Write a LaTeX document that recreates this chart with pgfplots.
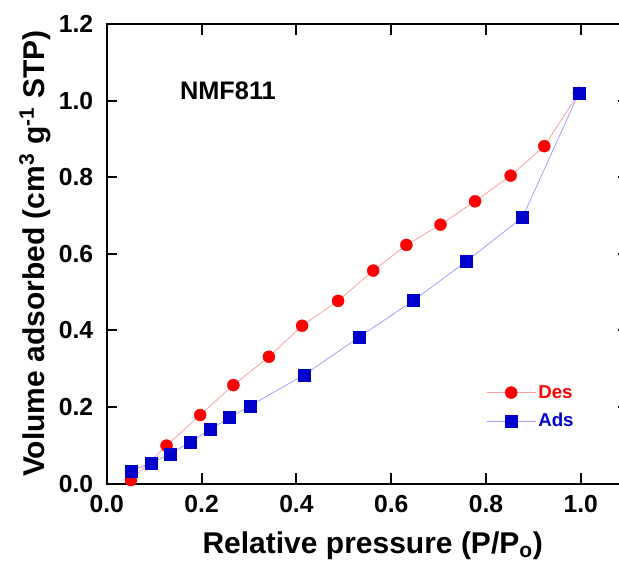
\documentclass[border=0pt]{standalone}
\usepackage{pgfplots}
\pgfplotsset{compat=1.18}
\usepackage{fontspec}
\setmainfont{Liberation Sans}
\definecolor{desred}{RGB}{255,0,0}
\definecolor{desline}{RGB}{255,160,160}
\definecolor{adsblue}{RGB}{0,0,204}
\definecolor{adsline}{RGB}{160,160,255}
\begin{document}
\begin{tikzpicture}
\begin{axis}[name=ax, scale only axis, width=391pt, height=344.6pt,
  xmin=0, xmax=1.1, ymin=0, ymax=1.2,
  xtick={0,0.2,0.4,0.6,0.8,1.0}, ytick={0,0.2,0.4,0.6,0.8,1.0,1.2},
  tick align=inside, major tick length=8pt,
  axis line style={line width=1.5pt},
  every tick/.style={line width=1.5pt, black},
  clip=false,
  tick label style={font=\fontsize{18.5}{18.5}\selectfont\bfseries},
  /pgf/number format/.cd, fixed, fixed zerofill, precision=1, assume math mode=true,
  /pgfplots/.cd,
  xticklabel style={anchor=north, inner sep=0pt, yshift=-8.6pt},
  yticklabel style={anchor=east, inner sep=0pt, xshift=-10pt},
  xlabel={Relative pressure (P/P\textsubscript{o})},
  ylabel={Volume adsorbed (cm\textsuperscript{3} g\textsuperscript{-1} STP)},
  label style={font=\fontsize{22.5}{22.5}\selectfont\bfseries},
  xlabel style={at={(axis description cs:0.51,-0.1513)}, anchor=base},
  ylabel style={at={(axis description cs:-0.1204,0.5)}, anchor=base},
  legend style={at={(axis description cs:0.727,0.219)}, anchor=north west, draw=none, fill=none, inner sep=0pt,
    font=\fontsize{14}{14}\selectfont\bfseries, row sep=7pt, nodes={inner sep=1.5pt}},
  legend cell align=left,
  legend image code/.code={\draw[mark repeat=2,mark phase=2,#1] plot coordinates {(0pt,0pt) (18.5pt,0pt) (37pt,0pt)};},
]
\addplot[color=desline, line width=0.6pt, mark=*, mark size=4.5pt, mark options={fill=desred, draw=desred, line width=0.3pt}]
coordinates {(0.051,0.009) (0.126,0.099) (0.197,0.179) (0.267,0.257) (0.342,0.331) (0.412,0.412) (0.488,0.477) (0.562,0.556) (0.632,0.623) (0.704,0.676) (0.777,0.737) (0.852,0.804) (0.923,0.881) (0.996,1.020)};
\addlegendentry{\textcolor{desred}{Des}}
\addplot[color=adsline, line width=0.6pt, mark=square*, mark size=4.5pt, mark options={fill=adsblue, draw=adsblue, line width=0.3pt}]
coordinates {(0.051,0.033) (0.093,0.054) (0.133,0.077) (0.176,0.108) (0.218,0.141) (0.259,0.172) (0.302,0.203) (0.417,0.284) (0.533,0.383) (0.647,0.478) (0.758,0.580) (0.877,0.695) (0.996,1.020)};
\addlegendentry{\textcolor{adsblue}{Ads}}
\node[anchor=base west, font=\fontsize{19}{19}\selectfont\bfseries, inner sep=0pt] at (axis description cs:0.140,0.835) {NMF811};
\end{axis}
\pgfresetboundingbox
\path[use as bounding box] ([xshift=-80.1pt,yshift=-60.4pt]ax.south west) rectangle ([xshift=-6.9pt,yshift=18pt]ax.north east);
\end{tikzpicture}
\end{document}
